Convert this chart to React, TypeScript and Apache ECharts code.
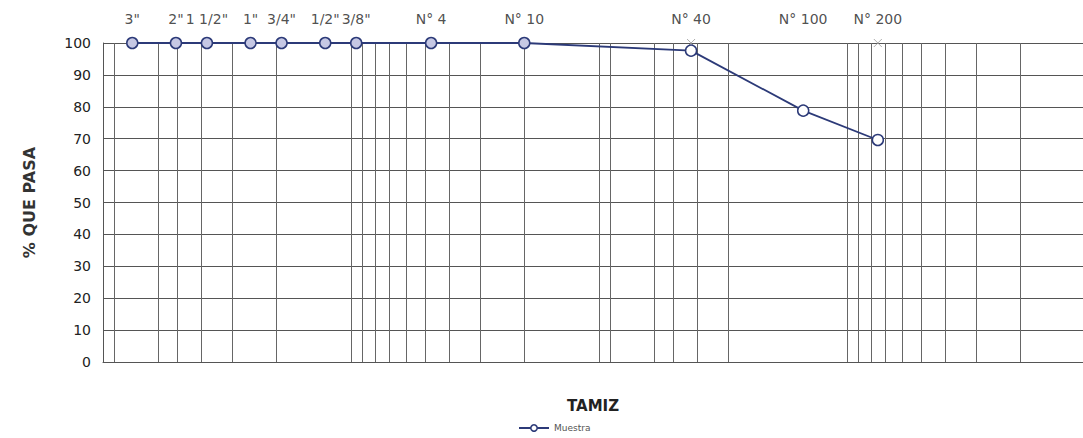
import React, { useEffect, useRef } from "react";
import * as echarts from "echarts";

const sieveLabels = ['3"', '2"', '1 1/2"', '1"', '3/4"', '1/2"', '3/8"', "N° 4", "N° 10", "N° 40", "N° 100", "N° 200"];
const sieveSizes = [76.2, 50.8, 38.1, 25.4, 19.05, 12.7, 9.525, 4.75, 2.0, 0.425, 0.15, 0.075];
const percentPassing = [100, 100, 100, 100, 100, 100, 100, 100, 100, 97.6, 78.8, 69.6];
const gridSizes = [
  90, 60, 50, 40, 30, 20, 10, 9, 8, 7, 6, 5, 4, 3, 2, 1, 0.9, 0.6, 0.5, 0.4, 0.3, 0.1, 0.09, 0.08, 0.07, 0.06,
  0.05, 0.04, 0.03, 0.02,
];
const crossSizes = [0.425, 0.075];
const crossValues = [100, 100];
const xMax = 100;
const xMin = 0.01116;
const yMin = 0;
const yMax = 100;
const yStep = 10;

const FONT = "DejaVu Sans, sans-serif";
const NAVY = "#2c3a78";

export default function App() {
  const ref = useRef<HTMLDivElement>(null);
  useEffect(() => {
    if (!ref.current) return;
    const chart = echarts.init(ref.current, null, { renderer: "svg" });
    const lineData = sieveSizes.map((s, i) => [s, percentPassing[i]]);
    const labelData = sieveSizes.map((s) => [s, 100]);
    const crossData = crossSizes.map((s, i) => [s, crossValues[i]]);
    chart.setOption({
      animation: false,
      backgroundColor: "#ffffff",
      textStyle: { fontFamily: FONT },
      grid: { left: 103, right: 0, top: 43, bottom: 76 },
      legend: {
        data: [{ name: "Muestra", itemStyle: { color: "#ffffff", borderColor: NAVY, borderWidth: 1.5 } }],
        left: 518,
        top: 422,
        padding: 0,
        itemWidth: 30,
        itemHeight: 8,
        itemGap: 4,
        textStyle: { fontSize: 9, color: "#555", fontFamily: FONT, lineHeight: 12 },
      },
      xAxis: {
        type: "log",
        inverse: true,
        min: xMin,
        max: xMax,
        name: "TAMIZ",
        nameLocation: "middle",
        nameGap: 36,
        nameTextStyle: { fontSize: 15, fontWeight: "bold", color: "#222", fontFamily: FONT },
        axisLine: { show: true, lineStyle: { color: "#555", width: 1 } },
        axisTick: { show: false },
        axisLabel: { show: false },
        splitLine: { show: false },
      },
      yAxis: {
        type: "value",
        min: yMin,
        max: yMax,
        interval: yStep,
        name: "% QUE PASA",
        nameLocation: "middle",
        nameRotate: 90,
        nameGap: 66,
        nameTextStyle: { fontSize: 16, fontWeight: "bold", color: "#333", fontFamily: FONT },
        axisLine: { show: true, lineStyle: { color: "#555", width: 1 } },
        axisTick: { show: false },
        axisLabel: { fontSize: 14, color: "#222", margin: 12, fontFamily: FONT },
        splitLine: { show: true, lineStyle: { color: "#555", width: 1 } },
      },
      series: [
        {
          name: "grid",
          type: "line",
          data: [],
          silent: true,
          markLine: {
            silent: true,
            symbol: "none",
            label: { show: false },
            lineStyle: { color: "#666", width: 1, type: "solid" },
            data: gridSizes.map((v) => ({ xAxis: v })),
          },
        },
        {
          name: "sieves",
          type: "scatter",
          data: labelData,
          silent: true,
          symbolSize: 1,
          itemStyle: { color: "rgba(0,0,0,0)" },
          label: {
            show: true,
            position: "top",
            distance: 17,
            formatter: (p: any) => sieveLabels[p.dataIndex],
            fontSize: 14,
            color: "#222",
            fontFamily: FONT,
          },
          z: 1,
        },
        {
          name: "marks",
          type: "scatter",
          data: crossData,
          silent: true,
          symbol: "path://M0,0L10,10M10,0L0,10",
          symbolSize: 8,
          itemStyle: { color: "rgba(0,0,0,0)", borderColor: "#999", borderWidth: 1 },
          z: 2,
        },
        {
          name: "Muestra",
          type: "line",
          data: lineData,
          symbol: "circle",
          symbolSize: 11,
          lineStyle: { color: NAVY, width: 1.8 },
          itemStyle: {
            color: (p: any) => (p.dataIndex < 9 ? "#c6c8e4" : "#ffffff"),
            borderColor: NAVY,
            borderWidth: 1.5,
          },
          z: 5,
        },
      ],
    });
    return () => chart.dispose();
  }, []);
  return (
    <div
      ref={ref}
      style={{ position: "fixed", left: 0, top: 0, width: 1083, height: 438, background: "#fff" }}
    />
  );
}
